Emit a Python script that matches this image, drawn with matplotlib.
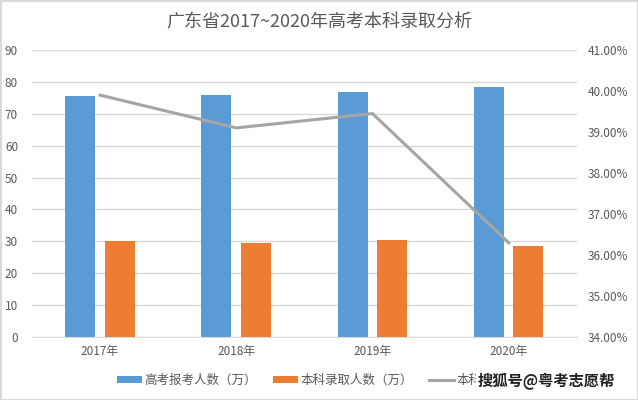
import matplotlib.pyplot as plt
import numpy as np
from matplotlib.ticker import FuncFormatter

plt.rcParams['font.family'] = ['Noto Sans CJK SC', 'DejaVu Sans']

years = ['2017年', '2018年', '2019年', '2020年']
applicants = [75.7, 75.8, 76.8, 78.4]      # 高考报考人数（万）
admitted = [30.2, 29.6, 30.3, 28.5]        # 本科录取人数（万）
rate = [39.90, 39.10, 39.45, 36.30]        # 本科录取率 (%)

blue = '#5B9BD5'
orange = '#ED7D31'
gray = '#A5A5A5'
text_col = '#595959'

fig = plt.figure(figsize=(6.38, 4.0), dpi=100)
fig.patch.set_edgecolor('#D9D9D9')
fig.patch.set_linewidth(2)
ax = fig.add_axes([0.050, 0.1575, 0.854, 0.7175])

x = np.arange(len(years))
w = 0.22
ax.bar(x - 0.145, applicants, w, color=blue, label='高考报考人数（万）', zorder=2)
ax.bar(x + 0.145, admitted, w, color=orange, label='本科录取人数（万）', zorder=2)

ax.set_xlim(-0.5, 3.5)
ax.set_ylim(0, 90)
ax.set_yticks(range(0, 91, 10))
ax.set_xticks(x)
ax.set_xticklabels(years)
ax.yaxis.grid(True, color='#D9D9D9', linewidth=1, zorder=0)
ax.set_axisbelow(True)
for s in ['top', 'left', 'right']:
    ax.spines[s].set_visible(False)
ax.spines['bottom'].set_color('#D9D9D9')
ax.tick_params(length=0, labelsize=8.5, colors=text_col)
ax.tick_params(axis='y', pad=10)
ax.tick_params(axis='x', pad=6)

ax2 = ax.twinx()
ax2.plot(x, rate, color=gray, linewidth=2.2, label='本科录取率', zorder=3)
ax2.set_ylim(34, 41)
ax2.set_yticks(range(34, 42))
ax2.yaxis.set_major_formatter(FuncFormatter(lambda v, p: f'{v:.2f}%'))
for s in ['top', 'left', 'right', 'bottom']:
    ax2.spines[s].set_visible(False)
ax2.tick_params(length=0, labelsize=8.5, colors=text_col, pad=8)

fig.text(0.5, 0.945, '广东省2017~2020年高考本科录取分析', ha='center', va='center',
         fontsize=13, color=text_col)

h1, l1 = ax.get_legend_handles_labels()
h2, l2 = ax2.get_legend_handles_labels()
leg = fig.legend(h1 + h2, l1 + l2, loc='center left', bbox_to_anchor=(0.165, 0.05), ncol=3,
                 frameon=False, fontsize=9, handlelength=2.0, handleheight=0.5,
                 columnspacing=1.3, handletextpad=0.2)
for t in leg.get_texts():
    t.set_color(text_col)

wm = fig.text(0.748, 0.047, '搜狐号@粤考志愿帮', ha='left', va='center', fontsize=11,
              fontweight='bold', color='#222222',
              bbox=dict(facecolor='white', edgecolor='none', pad=1.0))
wm.set_zorder(10)

plt.savefig('out.png', dpi=100)
